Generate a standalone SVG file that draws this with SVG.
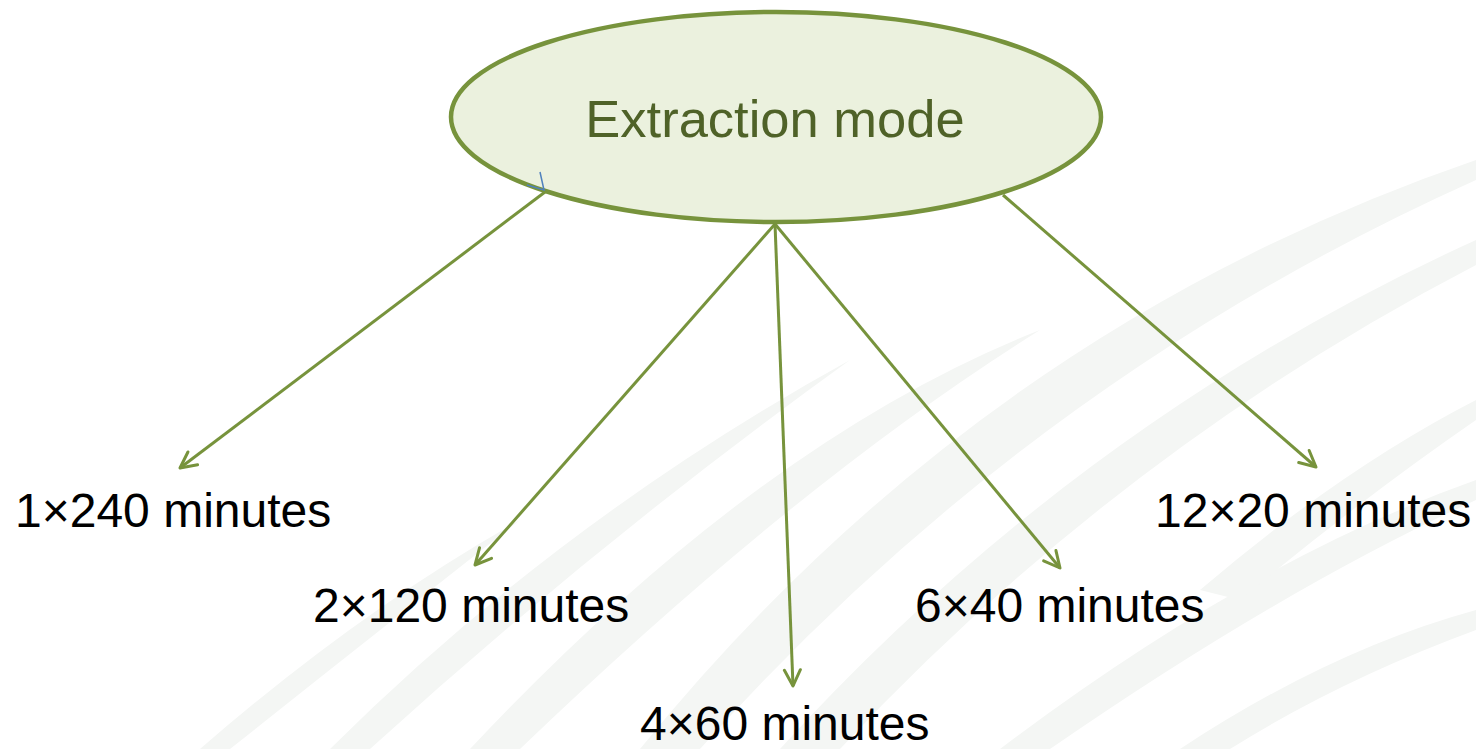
<svg xmlns="http://www.w3.org/2000/svg" width="1476" height="749" viewBox="0 0 1476 749">
  <defs>
    <style>
      .bg { fill: #f4f6f4; stroke: none; }
      .conn { stroke: #77933c; stroke-width: 3; fill: none; marker-end: url(#arr); }
      .lbl { font-family: "Liberation Sans", Arial, sans-serif; font-size: 48px; fill: #000000; }
      .title { font-family: "Liberation Sans", Arial, sans-serif; font-size: 52.5px; fill: #4f6228; }
    </style>
    <marker id="arr" viewBox="0 0 20 20" refX="18" refY="10" markerWidth="20" markerHeight="20" markerUnits="userSpaceOnUse" orient="auto">
      <path d="M2,2 L18,10 L2,18" fill="none" stroke="#77933c" stroke-width="3" stroke-linecap="round" stroke-linejoin="round"/>
    </marker>
  </defs>
  <rect width="1476" height="749" fill="#ffffff"/>
  <g id="background">
    <path class="bg" d="M200,749 Q360,610 520,520 Q380,630 230,749 Z"/>
    <path class="bg" d="M330,749 Q560,520 850,360 Q600,540 370,749 Z"/>
    <path class="bg" d="M470,749 Q760,440 1040,330 Q800,480 520,749 Z"/>
    <path class="bg" d="M640,749 Q980,330 1476,160 L1476,180 Q1030,380 700,749 Z"/>
    <path class="bg" d="M780,749 Q1080,420 1476,240 L1476,265 Q1120,450 840,749 Z"/>
    <path class="bg" d="M1000,749 Q1250,560 1476,480 L1476,500 Q1280,590 1050,749 Z"/>
    <path class="bg" d="M1180,749 Q1330,650 1476,610 L1476,630 Q1340,680 1230,749 Z"/>
    <path class="bg" d="M1200,590 Q1340,470 1476,400 L1476,420 Q1360,500 1240,600 Z"/>
  </g>
  <g id="node-extraction-mode">
    <ellipse cx="776" cy="117" rx="325" ry="105" fill="#ebf1de" stroke="#77933c" stroke-width="4.5"/>
    <text class="title" x="775" y="137" text-anchor="middle">Extraction mode</text>
  </g>
  <g id="connectors">
    <line class="conn" x1="545" y1="192" x2="180" y2="468"/>
    <line class="conn" x1="775" y1="224" x2="475" y2="565"/>
    <line class="conn" x1="775" y1="224" x2="793" y2="686"/>
    <line class="conn" x1="775" y1="224" x2="1060" y2="568"/>
    <line class="conn" x1="1003" y1="195" x2="1316" y2="467"/>
    <path d="M540,172 L544,190 L527,185" fill="none" stroke="#4f81bd" stroke-width="1.5"/>
  </g>
  <g id="node-1x240"><text class="lbl" x="15" y="527">1×240 minutes</text></g>
  <g id="node-2x120"><text class="lbl" x="313" y="622">2×120 minutes</text></g>
  <g id="node-4x60"><text class="lbl" x="640" y="740">4×60 minutes</text></g>
  <g id="node-6x40"><text class="lbl" x="915" y="622">6×40 minutes</text></g>
  <g id="node-12x20"><text class="lbl" x="1155" y="527">12×20 minutes</text></g>
</svg>
